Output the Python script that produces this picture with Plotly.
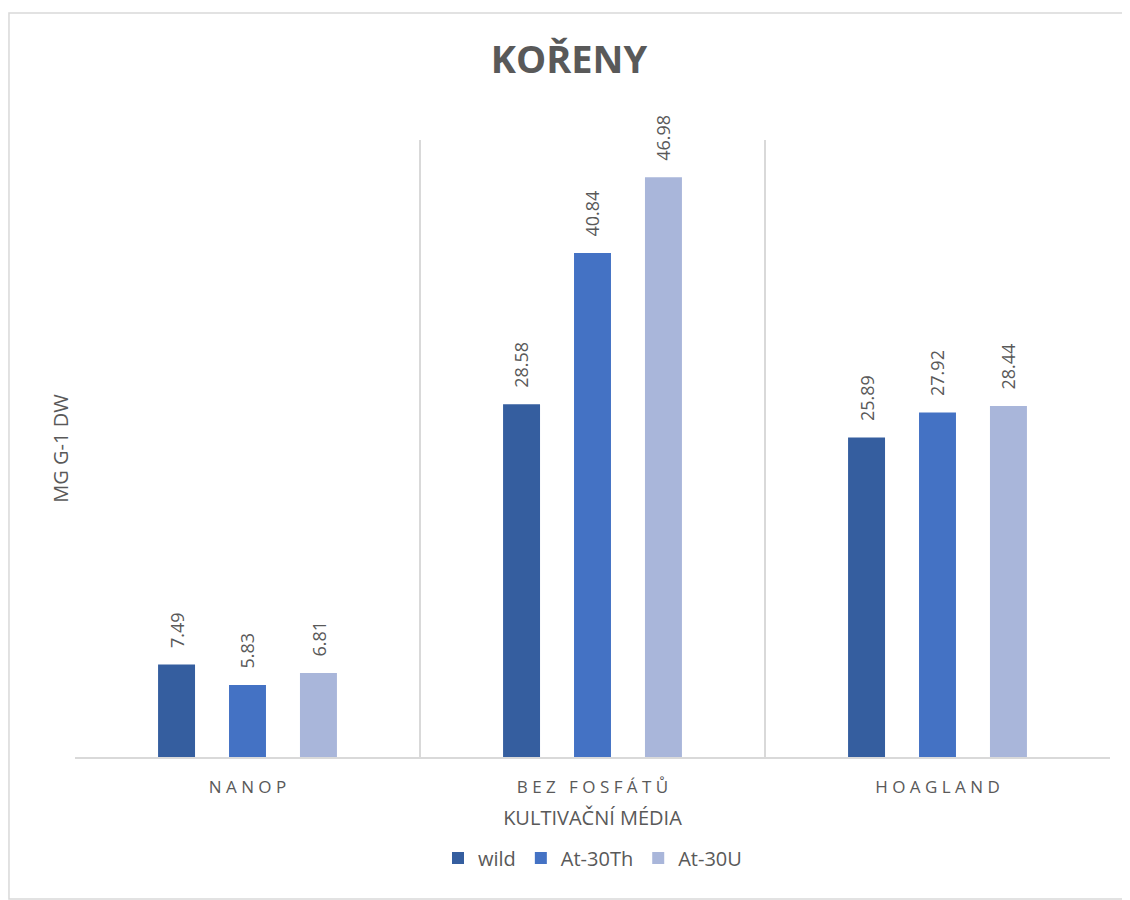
import plotly.graph_objects as go

# ── Data ────────────────────────────────────────────────────────
categories = ["N A N O P", "B E Z   F O S F Á T Ů", "H O A G L A N D"]
wild    = [7.49, 28.58, 25.89]
at30th  = [5.83, 40.84, 27.92]
at30u   = [6.81, 46.98, 28.44]

series = [
    ("wild",    wild,   "#355E9F"),
    ("At-30Th", at30th, "#4472C4"),
    ("At-30U",  at30u,  "#A9B6DA"),
]

FONT = "Open Sans"
GREY = "#595959"
SLOT = 71  # px between bar centres inside a group

fig = go.Figure()
for i, (name, vals, color) in enumerate(series):
    fig.add_trace(go.Bar(
        x=categories, y=vals, name=name,
        marker=dict(color=color, line=dict(width=0)),
    ))
    # value labels, rotated, a bit above the bar
    for cat, v in zip(categories, vals):
        fig.add_annotation(
            x=cat, y=v, text=f"{v:.2f}", showarrow=False,
            textangle=-90, xanchor="center", yanchor="bottom",
            xshift=(i - 1) * SLOT, yshift=14,
            font=dict(size=18, color=GREY, family=FONT),
        )

# chart border
fig.add_shape(type="rect", xref="paper", yref="paper",
              x0=-0.0638, x1=1.03, y0=-0.230, y1=1.2058,
              line=dict(color="#D9D9D9", width=1.5), layer="below")

fig.update_layout(
    width=1122, height=892,
    margin=dict(l=67, r=20, t=132, b=143),
    paper_bgcolor="white", plot_bgcolor="white",
    font=dict(family=FONT, color=GREY),
    title=dict(text="<b>KOŘENY</b>", x=0.5, xanchor="center",
               y=0.9417, yanchor="middle",
               font=dict(size=38, color=GREY, family=FONT)),
    barmode="group", bargap=0.383, bargroupgap=0.479,
    showlegend=True,
    legend=dict(orientation="h", x=0.5, xanchor="center",
                y=-0.1637, yanchor="middle",
                font=dict(size=20, color=GREY, family=FONT),
                traceorder="normal"),
)

fig.update_xaxes(
    tickson="boundaries", showgrid=True, gridcolor="#D9D9D9", gridwidth=1.5,
    showline=True, linecolor="#D9D9D9", linewidth=1.5,
    ticks="", ticklabelstandoff=14,
    tickfont=dict(size=17, color=GREY, family=FONT),
    title=dict(text="KULTIVAČNÍ MÉDIA", standoff=14,
               font=dict(size=20, color=GREY, family=FONT)),
)
fig.update_yaxes(
    range=[0, 50], showgrid=False, zeroline=False, showticklabels=False,
    showline=False, ticks="",
    title=dict(text="MG G-1 DW", standoff=0,
               font=dict(size=20, color=GREY, family=FONT)),
)

fig.write_html("out.html")
